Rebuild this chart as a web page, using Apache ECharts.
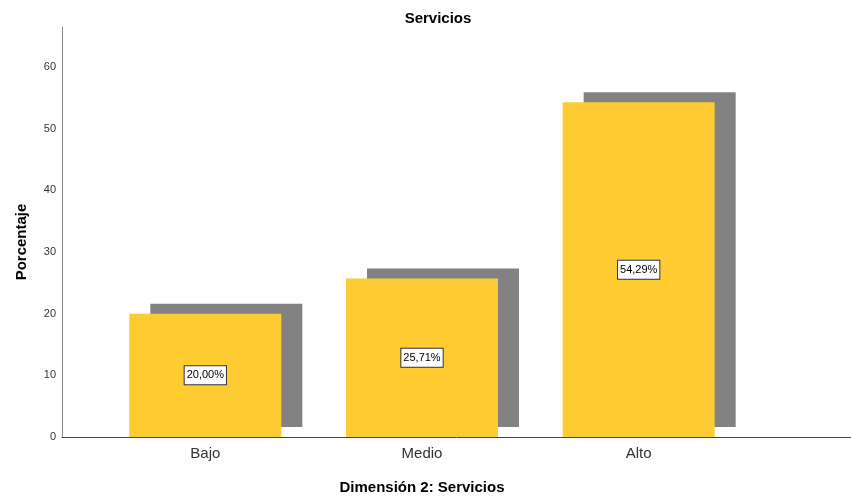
<!DOCTYPE html>
<html>
<head>
<meta charset="utf-8">
<script src="https://cdn.jsdelivr.net/npm/echarts@6/dist/echarts.min.js"></script>
<style>
  html, body { margin: 0; padding: 0; background: #fff; }
  #chart { width: 851px; height: 497px; }
</style>
</head>
<body>
<div id="chart"></div>
<script>
var categories = ['Bajo', 'Medio', 'Alto'];
var porcentajes = [20.00, 25.71, 54.29];
var yTicks = [0, 10, 20, 30, 40, 50, 60];

var fuente = '"Liberation Sans", Arial, sans-serif';
var yMax = 66.5;

var myChart = echarts.init(document.getElementById('chart'));

var option = {
  backgroundColor: '#fff',
  animation: false,
  title: {
    text: 'Servicios',
    left: 433,
    textAlign: 'center',
    top: 6,
    textStyle: { fontFamily: fuente, fontSize: 15, fontWeight: 'bold', color: '#000' }
  },
  grid: [
    // marco de ejes
    { left: 62, right: 0, top: 27, bottom: 60, outerBoundsMode: 'none' },
    // zona de barras
    { left: 97, width: 650, top: 27, bottom: 60, outerBoundsMode: 'none' }
  ],
  xAxis: [{
    gridIndex: 0,
    type: 'value',
    min: 0,
    max: 1,
    axisLine: { show: true, lineStyle: { color: '#444', width: 1 } },
    axisTick: { show: false },
    axisLabel: { show: false },
    splitLine: { show: false }
  }, {
    gridIndex: 1,
    type: 'category',
    data: categories,
    name: 'Dimensión 2: Servicios',
    nameLocation: 'middle',
    nameGap: 43,
    nameTextStyle: { fontFamily: fuente, fontSize: 15, fontWeight: 'bold', color: '#000' },
    axisLine: { show: false },
    axisTick: { show: false },
    axisLabel: { margin: 9, fontFamily: fuente, fontSize: 15, color: '#333' }
  }],
  yAxis: [{
    gridIndex: 0,
    type: 'value',
    min: yTicks[0],
    max: yMax,
    interval: 10,
    name: 'Porcentaje',
    nameLocation: 'middle',
    nameGap: 33,
    nameTextStyle: { fontFamily: fuente, fontSize: 15, fontWeight: 'bold', color: '#000', padding: [0, 20, 0, 0] },
    axisLine: { show: true, lineStyle: { color: '#888', width: 1 } },
    axisTick: { show: false },
    axisLabel: { showMaxLabel: false, margin: 6, fontFamily: fuente, fontSize: 11, color: '#333' },
    splitLine: { show: false }
  }, {
    gridIndex: 1,
    type: 'value',
    min: 0,
    max: yMax,
    show: false
  }],
  series: [{
    type: 'bar',
    xAxisIndex: 1,
    yAxisIndex: 1,
    barWidth: 152,
    data: porcentajes,
    itemStyle: {
      color: '#fecb33',
      shadowColor: '#828282',
      shadowBlur: 0,
      shadowOffsetX: 21,
      shadowOffsetY: -10
    },
    label: {
      show: true,
      position: 'inside',
      formatter: function (p) {
        return p.value.toFixed(2).replace('.', ',') + '%';
      },
      fontFamily: fuente,
      fontSize: 11,
      color: '#000',
      backgroundColor: '#fff',
      borderColor: '#333',
      borderWidth: 1,
      padding: [4, 2, 3, 2]
    }
  }]
};

myChart.setOption(option);
</script>
</body>
</html>
